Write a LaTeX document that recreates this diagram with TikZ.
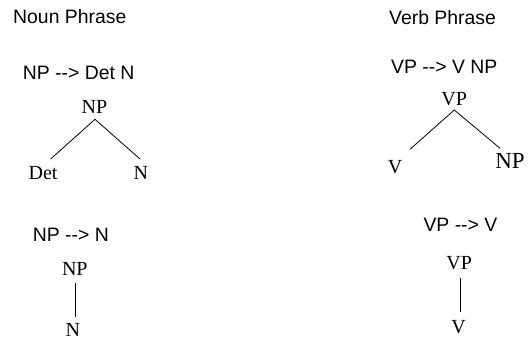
\documentclass[tikz,border=0pt]{standalone}
\usepackage{fontspec}
\setmainfont{Liberation Serif}
\newfontfamily\arialf{Liberation Sans}
\begin{document}
\begin{tikzpicture}[x=1pt,y=-1pt,
  sanslbl/.style={inner sep=0pt,anchor=base west,font=\arialf\fontsize{19.4}{22}\selectfont},
  serlbl/.style={inner sep=0pt,anchor=base,font=\fontsize{20}{22}\selectfont},
  bigserlbl/.style={inner sep=0pt,anchor=base,font=\fontsize{23}{25}\selectfont},
  edge/.style={line width=0.8pt,black}]
\useasboundingbox (0,0) rectangle (529,339);
% headings
\node[sanslbl] (hnoun) at (13,24) {Noun Phrase};
\node[sanslbl] (hverb) at (389,25) {Verb Phrase};
% rules
\node[sanslbl] (r1) at (22.7,79.3) {NP --> Det N};
\node[sanslbl] (r2) at (391,74) {VP --> V NP};
\node[sanslbl] (r3) at (32.7,241.7) {NP --> N};
\node[sanslbl] (r4) at (423.3,231.7) {VP --> V};
% tree 1
\node[serlbl] (np1) at (94.5,114) {NP};
\node[serlbl] (det1) at (43,179) {Det};
\node[serlbl] (n1) at (140.8,179) {N};
\coordinate (a1) at (95,119.3);
\coordinate (l1) at (50.7,159);
\coordinate (e1) at (140,159);
\draw[edge] (l1) -- (a1) -- (e1);
% tree 2
\node[serlbl] (vp2) at (454.2,105.7) {VP};
\node[serlbl] (v2) at (395,173.3) {V};
\node[bigserlbl] (np2) at (510,168.3) {NP};
\coordinate (a2) at (454.3,110);
\coordinate (l2) at (410,149.3);
\coordinate (e2) at (500,148.3);
\draw[edge] (l2) -- (a2) -- (e2);
% tree 3
\node[serlbl] (np3) at (74.8,275) {NP};
\node[serlbl] (n3) at (72.8,336) {N};
\coordinate (t3) at (75.3,283.3);
\coordinate (b3) at (75.3,316.7);
\draw[edge] (t3) -- (b3);
% tree 4
\node[serlbl] (vp4) at (459.2,269.3) {VP};
\node[serlbl] (v4) at (458.7,333.3) {V};
\coordinate (t4) at (460,278.3);
\coordinate (b4) at (460,312.3);
\draw[edge] (t4) -- (b4);
\end{tikzpicture}
\end{document}
